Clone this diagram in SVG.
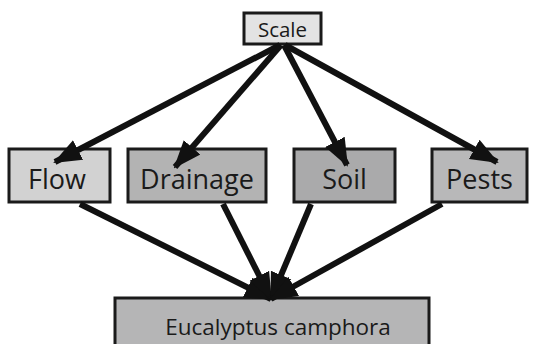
<svg xmlns="http://www.w3.org/2000/svg" width="546" height="344" viewBox="0 0 546 344">
  <style>
    .box { stroke: #1a1a1a; stroke-width: 3; }
    .lbl { font-family: "Open Sans", "Noto Sans", sans-serif; fill: #1a1a1a; text-anchor: middle; }
    .edge { stroke: #111; stroke-width: 6; fill: none; marker-end: url(#head); }
  </style>
  <defs>
    <marker id="head" markerUnits="userSpaceOnUse" markerWidth="28" markerHeight="26" viewBox="0 0 28 26" refX="26" refY="13" orient="auto">
      <path d="M0,2 L28,13 L0,24 Z" fill="#111"/>
    </marker>
  </defs>
  <rect width="546" height="344" fill="#ffffff"/>

  <g id="scale">
    <rect class="box" x="244" y="13" width="77" height="31" fill="#e3e3e3"/>
    <text class="lbl" x="282.5" y="37" font-size="20.5">Scale</text>
  </g>
  <g id="flow">
    <rect class="box" x="9" y="149" width="101" height="53" fill="#d2d2d2"/>
    <text class="lbl" x="57" y="189" font-size="27">Flow</text>
  </g>
  <g id="drainage">
    <rect class="box" x="128" y="149" width="138" height="53" fill="#b3b3b3"/>
    <text class="lbl" x="197" y="189" font-size="27">Drainage</text>
  </g>
  <g id="soil">
    <rect class="box" x="294" y="149" width="101" height="53" fill="#aaaaab"/>
    <text class="lbl" x="344.5" y="189" font-size="27">Soil</text>
  </g>
  <g id="pests">
    <rect class="box" x="432" y="149" width="95" height="53" fill="#b8b8b9"/>
    <text class="lbl" x="479.5" y="189" font-size="27">Pests</text>
  </g>
  <g id="eucalyptus">
    <rect class="box" x="115" y="298" width="314" height="50" fill="#b5b5b6"/>
    <text class="lbl" x="278" y="335" font-size="22.5">Eucalyptus camphora</text>
  </g>

  <g id="connectors">
    <line class="edge" x1="280" y1="45" x2="55" y2="162"/>
    <line class="edge" x1="281" y1="45" x2="175" y2="167"/>
    <line class="edge" x1="284" y1="45" x2="347" y2="165"/>
    <line class="edge" x1="285" y1="45" x2="497" y2="162"/>
    <line class="edge" x1="80" y1="204" x2="271" y2="299"/>
    <line class="edge" x1="223" y1="204" x2="271" y2="299"/>
    <line class="edge" x1="311" y1="204" x2="271" y2="299"/>
    <line class="edge" x1="442" y1="204" x2="271" y2="299"/>
  </g>
</svg>
